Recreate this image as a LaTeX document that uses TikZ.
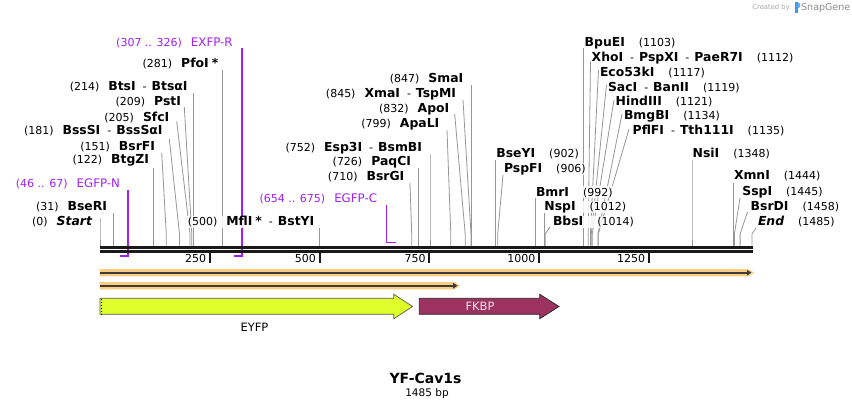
\documentclass[tikz,border=0pt]{standalone}
\usepackage{fontspec}
\setmainfont{DejaVu Sans}
\usetikzlibrary{arrows.meta}
\definecolor{prim}{RGB}{160,32,240}
\definecolor{sitec}{RGB}{150,150,150}
\definecolor{orband}{RGB}{252,204,128}
\definecolor{darkarr}{RGB}{60,60,60}
\definecolor{eyfpc}{RGB}{222,255,42}
\definecolor{fkbpc}{RGB}{155,50,95}
\definecolor{sgblue}{RGB}{70,150,235}
\newcommand\enz[1]{{\fontsize{12.4}{14}\selectfont\bfseries #1}}
\newcommand\pnum[1]{{\fontsize{11}{13}\selectfont #1}}
\newcommand\pname[1]{{\fontsize{11.8}{13}\selectfont #1}}
\newcommand\dsh{\hspace{7pt}{\fontsize{11}{13}\selectfont -}\hspace{5pt}}
\newcommand\gl{\hspace{9pt}}
\newcommand\gr{\hspace{14pt}}
\newcommand\siteline[4]{%
  \coordinate (#1-a) at (#2,#3);
  \coordinate (#1-b) at (#4,234);
  \coordinate (#1-c) at (#4,245.6);
  \draw[site] (#1-a) -- (#1-b) -- (#1-c);}
\newcommand\primbr[5]{%
  \coordinate (#1-t) at (#2,#3);
  \coordinate (#1-m) at (#2,#4);
  \coordinate (#1-e) at (#5,#4);
  \draw[primer] (#1-t) -- (#1-m) -- (#1-e);}
\newcommand\orbar[4]{%
  \coordinate (#1-s) at (#3,#2);
  \coordinate (#1-e) at (#4-1,#2);
  \fill[orband] (#3,#2-3.6) -- (#4-4,#2-3.6) -- (#4+1.5,#2) -- (#4-4,#2+3.6) -- (#3,#2+3.6) -- cycle;
  \draw[darkarr,line width=1.7pt,-{Triangle[length=4.5pt,width=5.5pt]}] (#1-s) -- (#1-e);}
\begin{document}
\begin{tikzpicture}[x=1pt,y=-1pt,
  lbl/.style={fill=white,fill opacity=0.85,text opacity=1,inner xsep=0.5pt,inner ysep=1pt,text height=9pt,text depth=1pt},
  lft/.style={lbl,anchor=east},
  rgt/.style={lbl,anchor=west},
  site/.style={draw=sitec,line width=0.8pt},
  primer/.style={draw=prim,line width=1.8pt},
  tick/.style={line width=2pt,black!90},
  ticklbl/.style={anchor=east,inner sep=0pt,font=\fontsize{11}{13}\selectfont}]
\fill[white] (0,0) rectangle (852,409);
\useasboundingbox (0,0) rectangle (852,409);

% site lines
\siteline{pfo}{222.7}{70}{222.7}
\siteline{bts}{193.6}{93}{193.6}
\siteline{pst}{184.3}{107}{191.8}
\siteline{sfc}{176.7}{121.3}{190}
\siteline{bss}{169.3}{139}{179.5}
\siteline{bsrf}{161.7}{153}{166.3}
\siteline{btg}{153.6}{168}{153.6}
\siteline{bser}{113.6}{213}{113.6}
\siteline{start}{100}{218}{100}
\siteline{mfl}{319.5}{228}{319.5}
\siteline{bsrg}{410}{183}{411.7}
\siteline{paq}{418.7}{168}{418.7}
\siteline{esp}{430}{154}{430}
\siteline{apal}{447}{130}{450.8}
\siteline{apo}{454.7}{114}{465.2}
\siteline{xma}{463}{100}{471}
\siteline{sma}{471.8}{85}{471.8}
\siteline{bsey}{495.7}{160}{495.7}
\siteline{pspf}{503}{175}{497.7}
\siteline{bmr}{535.4}{198}{535.4}
\siteline{nsp}{544.2}{213}{544.2}
\siteline{bbs}{550}{227}{545.2}
\siteline{bpue}{583.5}{48}{583.5}
\siteline{xho}{590.5}{61}{588.2}
\siteline{eco}{598.5}{70}{590.4}
\siteline{sac}{606.5}{85}{591.3}
\siteline{hind}{614}{100}{592.2}
\siteline{bmg}{622}{114}{597.9}
\siteline{pflf}{629}{129}{598.3}
\siteline{nsi}{692}{160}{692}
\siteline{xmn}{733.4}{183}{733.4}
\siteline{ssp}{740}{198}{734.4}
\siteline{bsrd}{747.5}{212}{740.1}
\siteline{endl}{756}{228}{752}

% primers
\primbr{egfpn}{128.3}{190}{256.3}{119.5}
\primbr{exfpr}{242.3}{48}{256.3}{234.2}
\primbr{egfpc}{386.5}{205}{242.5}{395.5}

% left labels
\node[lft,text=prim] (Lexfpr) at (233.3,42.3) {\pnum{(307 .. 326)}\gl\pname{EXFP-R}};
\node[lft] (Lpfo) at (219,63.3) {\pnum{(281)}\gl\enz{PfoI\hspace{3pt}*}};
\node[lft] (Lbts) at (188.3,86.7) {\pnum{(214)}\gl\enz{BtsI}\dsh\enz{BtsαI}};
\node[lft] (Lpst) at (181.7,101.7) {\pnum{(209)}\gl\enz{PstI}};
\node[lft] (Lsfc) at (170,117.3) {\pnum{(205)}\gl\enz{SfcI}};
\node[lft] (Lbss) at (163.3,130.7) {\pnum{(181)}\gl\enz{BssSI}\dsh\enz{BssSαI}};
\node[lft] (Lbsrf) at (155.7,146.7) {\pnum{(151)}\gl\enz{BsrFI}};
\node[lft] (Lbtg) at (149.7,160) {\pnum{(122)}\gl\enz{BtgZI}};
\node[lft,text=prim] (Legfpn) at (120.7,184) {\pnum{(46 .. 67)}\gl\pname{EGFP-N}};
\node[lft] (Lbser) at (107.7,206.7) {\pnum{(31)}\gl\enz{BseRI}};
\node[lft] (Lstart) at (92.7,221.7) {\pnum{(0)}\gl\enz{\itshape Start}};
\node[lft] (Lmfl) at (315,221.7) {\pnum{(500)}\gl\enz{MflI\hspace{3pt}*}\dsh\enz{BstYI}};
\node[lft] (Lbsrg) at (405,176.7) {\pnum{(710)}\gl\enz{BsrGI}};
\node[lft] (Lpaq) at (411.7,161.7) {\pnum{(726)}\gl\enz{PaqCI}};
\node[lft] (Lesp) at (422.7,147.3) {\pnum{(752)}\gl\enz{Esp3I}\dsh\enz{BsmBI}};
\node[lft] (Lapal) at (440,124) {\pnum{(799)}\gl\enz{ApaLI}};
\node[lft] (Lapo) at (450,109) {\pnum{(832)}\gl\enz{ApoI}};
\node[lft] (Lxma) at (456.7,94) {\pnum{(845)}\gl\enz{XmaI}\dsh\enz{TspMI}};
\node[lft] (Lsma) at (464,79) {\pnum{(847)}\gl\enz{SmaI}};
\node[lft,text=prim] (Legfpc) at (377.7,199) {\pnum{(654 .. 675)}\gl\pname{EGFP-C}};

% right labels
\node[rgt] (Rbsey) at (495.7,154) {\enz{BseYI}\gr\pnum{(902)}};
\node[rgt] (Rpspf) at (503.3,169) {\enz{PspFI}\gr\pnum{(906)}};
\node[rgt] (Rbmr) at (535.3,192.3) {\enz{BmrI}\gr\pnum{(992)}};
\node[rgt] (Rnsp) at (543.7,206.7) {\enz{NspI}\gr\pnum{(1012)}};
\node[rgt] (Rbbs) at (552.3,221.7) {\enz{BbsI}\gr\pnum{(1014)}};
\node[rgt] (Rbpue) at (584,42.3) {\enz{BpuEI}\gr\pnum{(1103)}};
\node[rgt] (Rxho) at (591,57.3) {\enz{XhoI}\dsh\enz{PspXI}\dsh\enz{PaeR7I}\gr\pnum{(1112)}};
\node[rgt] (Reco) at (599.3,72.7) {\enz{Eco53kI}\gr\pnum{(1117)}};
\node[rgt] (Rsac) at (607.3,87.3) {\enz{SacI}\dsh\enz{BanII}\gr\pnum{(1119)}};
\node[rgt] (Rhind) at (615,101.7) {\enz{HindIII}\gr\pnum{(1121)}};
\node[rgt] (Rbmg) at (623.3,116) {\enz{BmgBI}\gr\pnum{(1134)}};
\node[rgt] (Rpflf) at (632,130.7) {\enz{PflFI}\dsh\enz{Tth111I}\gr\pnum{(1135)}};
\node[rgt] (Rnsi) at (692,154) {\enz{NsiI}\gr\pnum{(1348)}};
\node[rgt] (Rxmn) at (733.3,176) {\enz{XmnI}\gr\pnum{(1444)}};
\node[rgt] (Rssp) at (741.7,191.7) {\enz{SspI}\gr\pnum{(1445)}};
\node[rgt] (Rbsrd) at (750,206.7) {\enz{BsrDI}\gr\pnum{(1458)}};
\node[rgt] (Rend) at (757.3,221.7) {\enz{\itshape End}\gr\pnum{(1485)}};

% backbone
\coordinate (bbL1) at (99.5,247.2); \coordinate (bbR1) at (752.5,247.2);
\coordinate (bbL2) at (99.5,251.5); \coordinate (bbR2) at (752.5,251.5);
\draw[line width=3pt,black!90] (bbL1) -- (bbR1);
\draw[line width=2.4pt,black!90] (bbL2) -- (bbR2);

% ticks
\foreach \tx/\tl in {209.8/250,319.5/500,429.3/750,539/1000,648.8/1250}{
  \draw[tick] (\tx,251) -- (\tx,262.5);
  \node[ticklbl] at (\tx-3.5,258.5) {\tl};
}

% orange bars
\orbar{ob1}{272.7}{99.5}{752.5}
\orbar{ob2}{285.7}{99.5}{458.6}

% features
\draw[fill=eyfpc,draw=black!65,line width=0.7pt] (100,298.3) -- (393.8,298.3) -- (393.8,294.3) -- (412.6,306.5) -- (393.8,318.7) -- (393.8,314.3) -- (100,314.3) -- cycle;
\draw[dotted,line width=1pt] (101.2,298.6) -- (101.2,314);
\node[font=\fontsize{11.5}{13}\selectfont] (eyfp) at (254.5,327.5) {EYFP};
\draw[fill=fkbpc,draw=black!85,line width=0.7pt] (419.3,298.3) -- (539.8,298.3) -- (539.8,294.3) -- (559,306.5) -- (539.8,318.7) -- (539.8,314.3) -- (419.3,314.3) -- cycle;
\node[text={rgb,255:red,245;green,222;blue,232},font=\fontsize{11.5}{13}\selectfont] (fkbp) at (480,306.3) {FKBP};

% title
\node[font=\fontsize{14}{16}\selectfont\bfseries] (title) at (425.5,378.5) {YF-Cav1s};
\node[font=\fontsize{10.5}{12}\selectfont] (len) at (427,393.5) {1485 bp};

% created by
\node[anchor=east,inner sep=0pt,text=black!35,font=\fontsize{6.8}{8}\selectfont] (cb) at (790,7.5) {Created by};
\fill[sgblue] (795,2.5) rectangle (797.6,13);
\fill[sgblue!80] (797.6,2.5) -- (800,3.5) -- (800,7) -- (797.6,8.5) -- cycle;
\node[anchor=west,inner sep=0pt,text=black!45,font=\fontsize{9.5}{11}\selectfont] (sg) at (801,7.5) {SnapGene};
\end{tikzpicture}
\end{document}
